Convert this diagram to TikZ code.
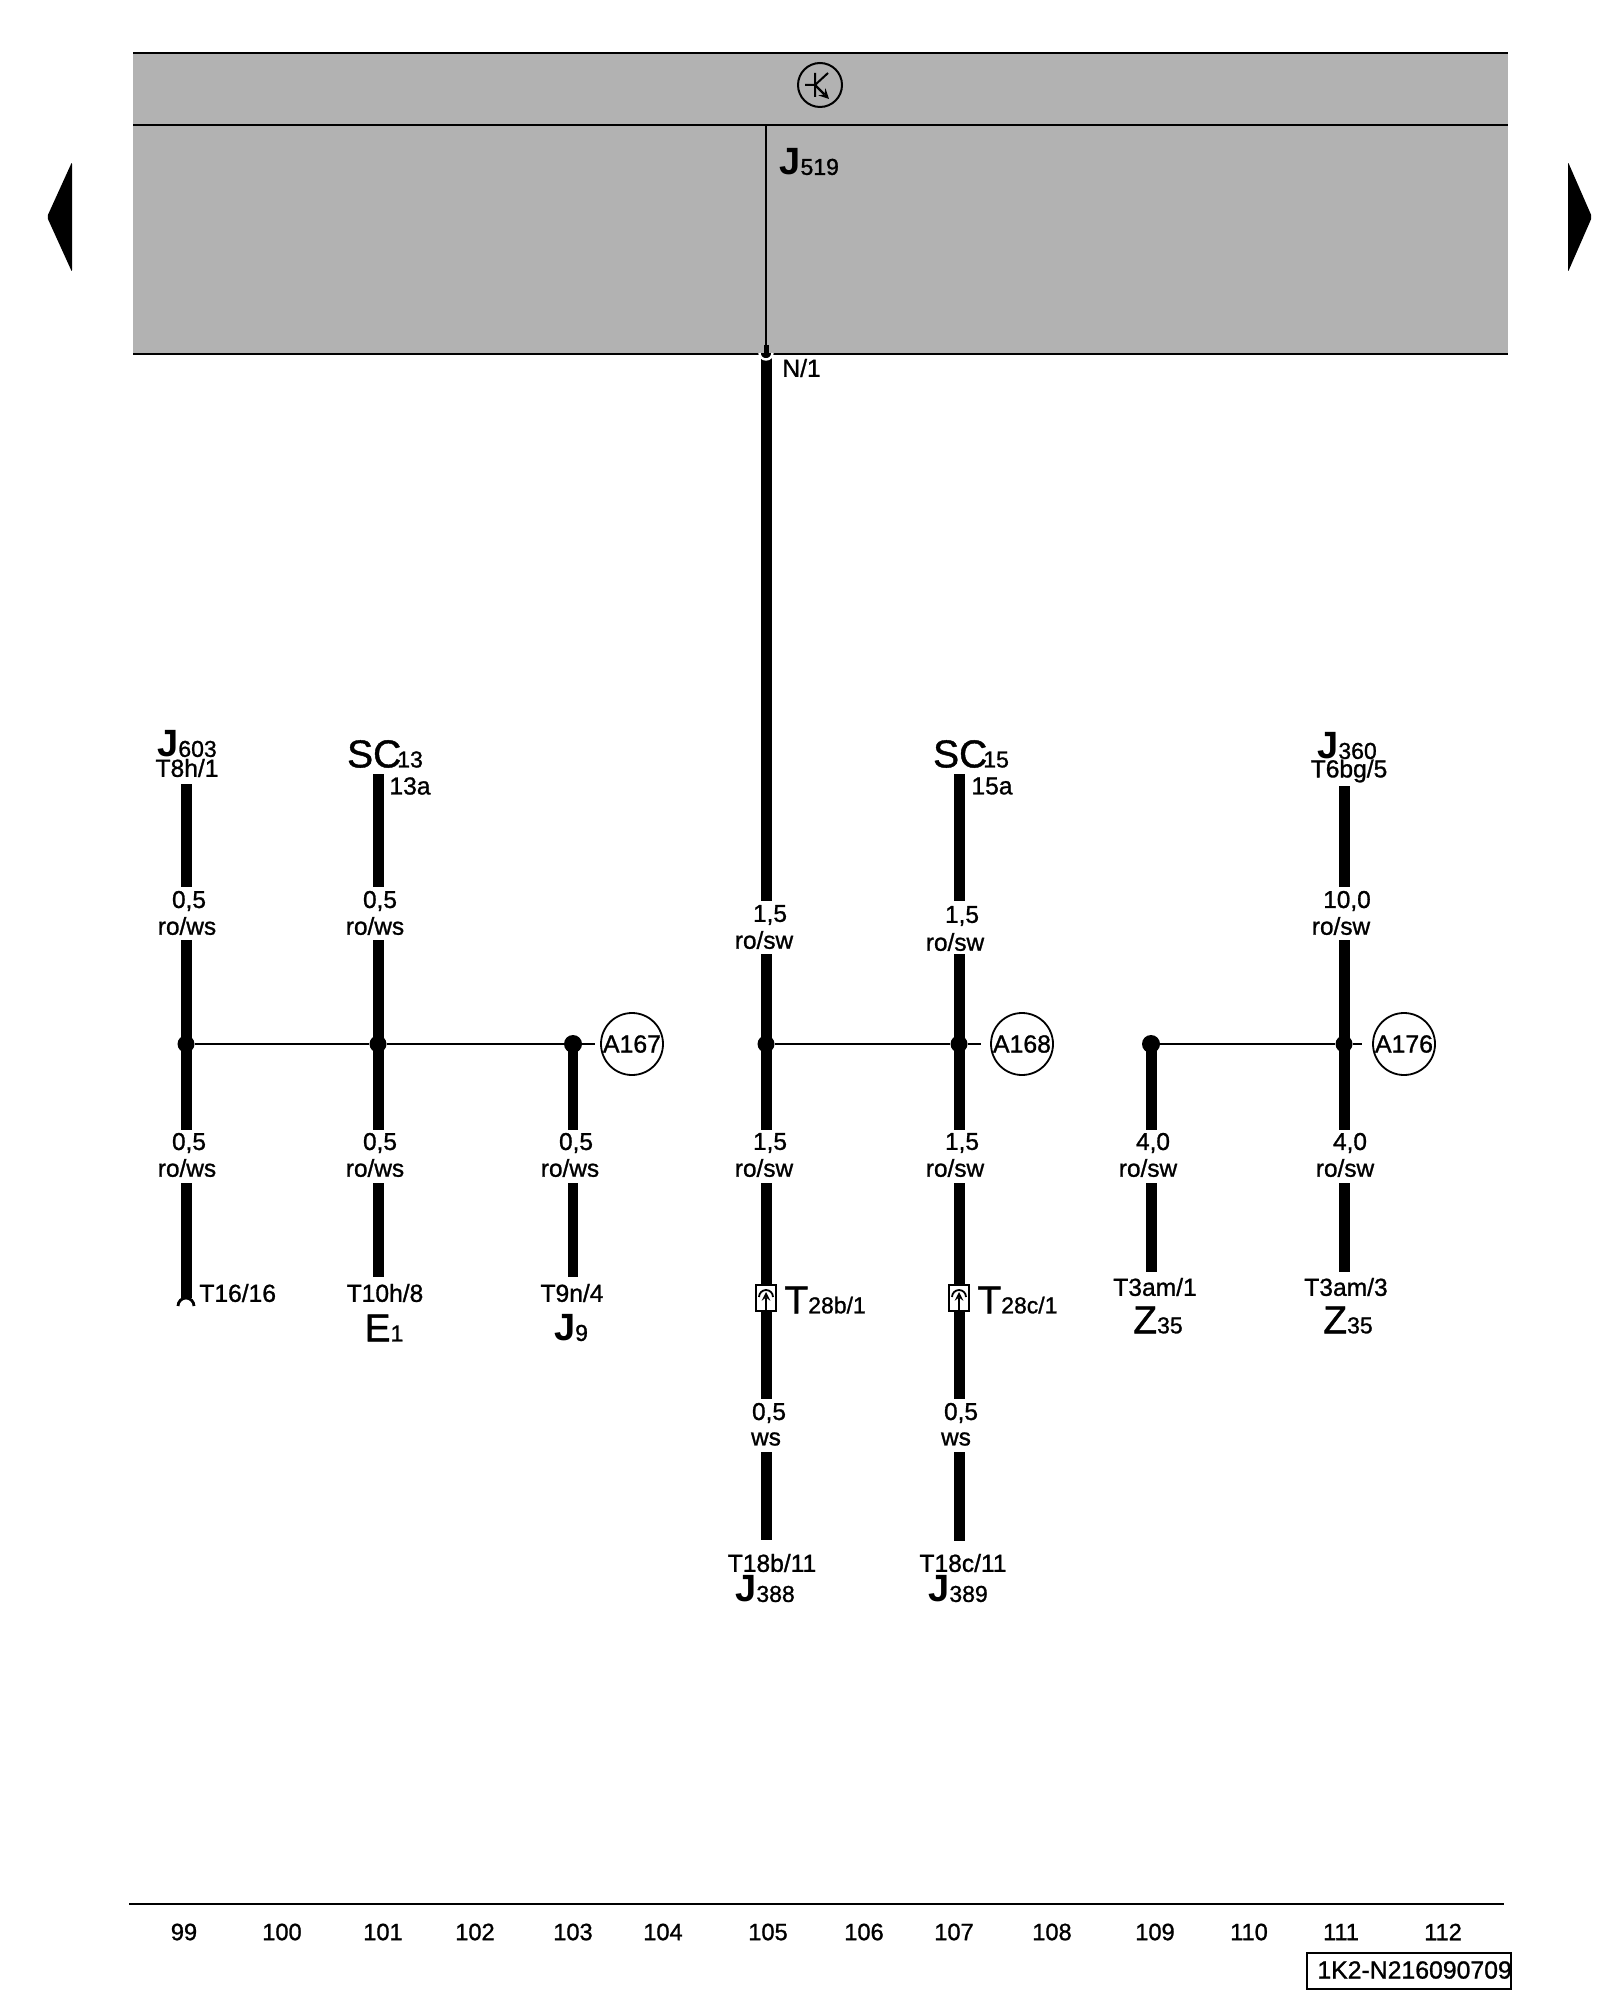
\documentclass[tikz,border=0pt]{standalone}
\usepackage{fontspec}
\setmainfont{Liberation Sans}
\newfontfamily\wirefont[FakeBold=1.1]{Liberation Sans}
\usetikzlibrary{positioning}
\definecolor{panelgrey}{HTML}{B2B2B2}
\newcommand{\unitname}[2]{{\fontsize{19}{20}\selectfont\bfseries #1}{\fontsize{11.5}{12}\selectfont\wirefont #2}}
\newcommand{\thinname}[2]{{\fontsize{19.5}{20}\selectfont\wirefont #1}{\fontsize{11.5}{12}\selectfont\wirefont #2}}
\tikzset{
  wire/.style={line width=5.5pt,black},
  signal/.style={line width=1pt,black},
  rule/.style={line width=1pt,black},
  gauge/.style={inner sep=0pt,font=\fontsize{12.2}{14}\selectfont\wirefont},
  pin/.style={inner sep=0pt,font=\fontsize{12.3}{14}\selectfont\wirefont},
  part/.style={inner sep=0pt},
  joint/.style={circle,fill=black,inner sep=0pt,minimum size=9pt},
  dot/.style={circle,fill=black,inner sep=0pt,minimum size=8.5pt},
  splice/.style={draw,circle,line width=0.9pt,inner sep=0pt,minimum size=31pt,font=\fontsize{12.4}{14}\selectfont\wirefont},
  pinbox/.style={draw,fill=white,line width=0.9pt,inner sep=0pt,minimum width=10pt,minimum height=13pt},
  column/.style={inner sep=0pt,font=\fontsize{11.8}{14}\selectfont\wirefont}
}
\begin{document}
\begin{tikzpicture}[x=0.5pt,y=-0.5pt]
\useasboundingbox (0,0) rectangle (1600,2000);
% control unit panel
\fill[panelgrey] (133,53) rectangle (1508,354);
\draw[rule] (133,53) -- (1508,53) (133,125) -- (1508,125) (133,354) -- (1508,354);
\node[draw,circle,line width=1pt,inner sep=0pt,minimum size=22pt](relay) at (820,85){};
\draw[signal] (815,73) -- (815,97) (805,85) -- (815,85) (815,85) -- (828,73);
\draw[line width=1.2pt,-stealth] (815,85) -- (829,99);
\node[part,right] (j519) at (779,162){\unitname{J}{519}};
\node[pin,right] (n1) at (782,368){N/1};
% page arrows
\fill[rounded corners=1pt] (47,217) -- (72,162) -- (72,272) -- cycle;
\fill[rounded corners=1pt] (1592,217) -- (1568,162) -- (1568,272) -- cycle;
% column 99
\node[part] (j603) at (187,744){\unitname{J}{603}};
\node[pin] (t8h) at (187,768){T8h/1};
\coordinate (a1) at (186,784); \coordinate (a2) at (186,887);
\coordinate (a3) at (186,940); \coordinate (a4) at (186,1130);
\coordinate (a5) at (186,1183); \coordinate (a6) at (186,1298);
\node[gauge] (a7) at (189,901){0,5}; \node[gauge] (a8) at (187,926){ro/ws};
\node[gauge] (a9) at (189,1143){0,5}; \node[gauge] (a10) at (187,1168){ro/ws};
\node[pin,right] (t16) at (199,1293){T16/16};
\draw[wire] (a1) -- (a2) (a3) -- (a4) (a5) -- (a6);
\draw[line width=1.4pt] (178,1306) arc (180:360:8);
% column 101
\node[part] (sc13) at (385,754){\thinname{SC\kern-2pt}{13}};
\node[pin] (p13a) at (410,786){13a};
\coordinate (b1) at (378,774); \coordinate (b2) at (378,887);
\coordinate (b3) at (378,940); \coordinate (b4) at (378,1130);
\coordinate (b5) at (378,1183); \coordinate (b6) at (378,1277);
\node[gauge] (b7) at (380,901){0,5}; \node[gauge] (b8) at (375,926){ro/ws};
\node[gauge] (b9) at (380,1143){0,5}; \node[gauge] (b10) at (375,1168){ro/ws};
\node[pin] (t10h) at (385,1293){T10h/8};
\node[part] (e1) at (384,1328){\thinname{E}{1}};
\draw[wire] (b1) -- (b2) (b3) -- (b4) (b5) -- (b6);
% column 103
\coordinate (c3) at (573,1044); \coordinate (c4) at (573,1130);
\coordinate (c5) at (573,1183); \coordinate (c6) at (573,1277);
\node[gauge] (c9) at (576,1143){0,5}; \node[gauge] (c10) at (570,1168){ro/ws};
\node[pin] (t9n) at (572,1293){T9n/4};
\node[part] (j9) at (571,1328){\unitname{J}{9}};
\draw[wire,line width=5pt] (c3) -- (c4) (c5) -- (c6);
% splice A167
\node[splice] (a167) at (632,1044){A167};
\coordinate (s1) at (595,1044);
\node[dot] (d1) at (a3 |- c3){}; \node[dot] (d2) at (b3 |- c3){}; \node[joint] (d3) at (c3){};
\draw[signal] (d1) -- (d2) -- (d3) -- (s1);
% column 105
\coordinate (e0) at (766,354); \coordinate (e2) at (766,901);
\coordinate (e3) at (766,954); \coordinate (e4) at (766,1130);
\coordinate (e5) at (766,1183); \coordinate (e6) at (766,1399);
\coordinate (e7) at (766,1452); \coordinate (e8) at (766,1540);
\node[gauge] (e9) at (770,915){1,5}; \node[gauge] (e10) at (764,940){ro/sw};
\node[gauge] (e11) at (770,1143){1,5}; \node[gauge] (e12) at (764,1168){ro/sw};
\node[gauge] (e13) at (769,1413){0,5}; \node[gauge] (e14) at (766,1439){ws};
\node[pin] (t18b) at (772,1563){T18b/11};
\node[part] (j388) at (765,1589){\unitname{J}{388}};
\draw[wire] (e0) -- (e2) (e3) -- (e4) (e5) -- (e6) (e7) -- (e8);
\draw[signal] (766,125) -- (e0);
% pin at the panel edge
\draw[white,line width=1.2pt] (759.5,353) arc (180:0:6.5);
\draw[line width=2.5pt] (766,345) -- (766,356);
\node[pinbox] (bx1) at (766,1298){};
\draw[line width=0.9pt,-stealth] (766,1311) -- (766,1292);
\draw[line width=0.9pt] (759,1297) arc (180:360:7);
\node[part,right] (t28b) at (784,1300){\thinname{T}{28b/1}};
% column 107
\coordinate (f1) at (959,774); \coordinate (f2) at (959,901);
\coordinate (f3) at (959,954); \coordinate (f4) at (959,1130);
\coordinate (f5) at (959,1183); \coordinate (f6) at (959,1399);
\coordinate (f7) at (959,1452); \coordinate (f8) at (959,1541);
\node[part] (sc15) at (971,754){\thinname{SC\kern-2pt}{15}};
\node[pin] (p15a) at (992,786){15a};
\node[gauge] (f9) at (962,916){1,5}; \node[gauge] (f10) at (955,942){ro/sw};
\node[gauge] (f11) at (962,1143){1,5}; \node[gauge] (f12) at (955,1168){ro/sw};
\node[gauge] (f13) at (961,1413){0,5}; \node[gauge] (f14) at (956,1439){ws};
\node[pin] (t18c) at (963,1563){T18c/11};
\node[part] (j389) at (958,1589){\unitname{J}{389}};
\draw[wire] (f1) -- (f2) (f3) -- (f4) (f5) -- (f6) (f7) -- (f8);
\node[pinbox] (bx2) at (959,1298){};
\draw[line width=0.9pt,-stealth] (959,1311) -- (959,1292);
\draw[line width=0.9pt] (952,1297) arc (180:360:7);
\node[part,right] (t28c) at (977,1300){\thinname{T}{28c/1}};
% splice A168
\node[splice] (a168) at (1022,1044){A168};
\coordinate (s2) at (981,1044);
\node[dot] (d4) at (e3 |- c3){}; \node[dot] (d5) at (f3 |- c3){};
\draw[signal] (d4) -- (d5) -- (s2);
% column 109
\coordinate (g3) at (1151,1044); \coordinate (g4) at (1151,1130);
\coordinate (g5) at (1151,1183); \coordinate (g6) at (1151,1272);
\node[gauge] (g9) at (1153,1143){4,0}; \node[gauge] (g10) at (1148,1168){ro/sw};
\node[pin] (t3a) at (1155,1287){T3am/1};
\node[part] (z1) at (1158,1320){\thinname{Z}{35}};
\draw[wire] (g3) -- (g4) (g5) -- (g6);
% column 111
\node[part] (j360) at (1347,746){\unitname{J}{360}};
\node[pin] (t6bg) at (1349,771){T6bg/5};
\coordinate (h1) at (1344,786); \coordinate (h2) at (1344,887);
\coordinate (h3) at (1344,940); \coordinate (h4) at (1344,1130);
\coordinate (h5) at (1344,1183); \coordinate (h6) at (1344,1272);
\node[gauge] (h7) at (1347,901){10,0}; \node[gauge] (h8) at (1341,926){ro/sw};
\node[gauge] (h9) at (1350,1143){4,0}; \node[gauge] (h10) at (1345,1168){ro/sw};
\node[pin] (t3b) at (1346,1287){T3am/3};
\node[part] (z2) at (1348,1320){\thinname{Z}{35}};
\draw[wire] (h1) -- (h2) (h3) -- (h4) (h5) -- (h6);
% splice A176
\node[splice] (a176) at (1404,1044){A176};
\coordinate (s3) at (1362,1044);
\node[joint] (d6) at (g3){}; \node[dot] (d7) at (h3 |- c3){};
\draw[signal] (d6) -- (d7) -- (s3);
% foot
\coordinate (r1) at (129,1904); \coordinate (r2) at (1504,1904);
\draw[rule] (r1) -- (r2);
\foreach \x/\n in {184/99,282/100,383/101,475/102,573/103,663/104,768/105,864/106,954/107,1052/108,1155/109,1249/110,1341/111,1443/112}
  \node[column] (n\n) at (\x,1932){\n};
\node[draw,line width=1pt,minimum width=102pt,minimum height=18pt,inner sep=0pt] (code) at (1409,1971){};
\node[inner sep=0pt,right,font=\fontsize{12.4}{14}\selectfont\wirefont] (codetext) at (1317,1970){1K2-N216090709};
\end{tikzpicture}
\end{document}
